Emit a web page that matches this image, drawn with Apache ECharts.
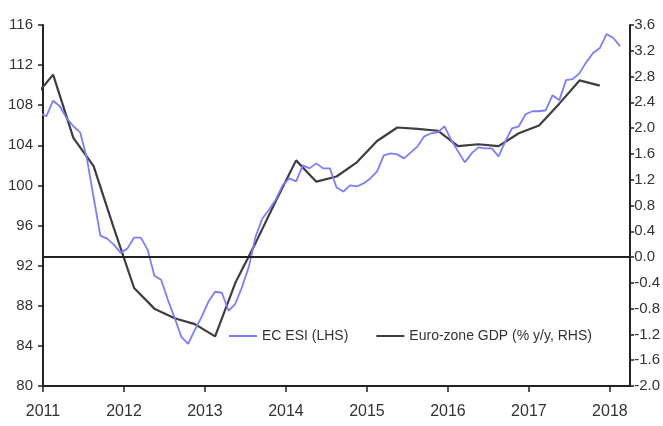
<!DOCTYPE html>
<html>
<head>
<meta charset="utf-8">
<script src="https://cdn.jsdelivr.net/npm/echarts@6.0.0/dist/echarts.min.js"></script>
<style>
  * { margin: 0; padding: 0; }
  body { background: #fff; }
  #mychart { width: 663px; height: 426px; }
</style>
</head>
<body>
<div id="mychart"></div>
<script>
// EC ESI, monthly from Dec 2010 to Feb 2018 (left axis)
const esiStart = 2010 + 11.5 / 12;
const esiValues = [
  107.2,
  106.9, 108.45, 107.9, 106.7, 105.9, 105.3, 102.7, 98.8, 95.0, 94.7, 94.1, 93.3,
  93.7, 94.8, 94.8, 93.6, 91.0, 90.6, 88.6, 86.8, 84.9, 84.2, 85.6, 86.9,
  88.4, 89.4, 89.3, 87.5, 88.2, 89.9, 91.9, 94.9, 96.7, 97.6, 98.6, 100.0,
  100.7, 100.4, 102.0, 101.7, 102.2, 101.7, 101.7, 99.8, 99.4, 100.0, 99.9, 100.2,
  100.7, 101.4, 103.0, 103.2, 103.1, 102.7, 103.3, 103.9, 104.9, 105.2, 105.3, 105.9,
  104.5, 103.4, 102.3, 103.2, 103.8, 103.7, 103.7, 102.9, 104.4, 105.7, 105.9, 107.1,
  107.4, 107.4, 107.5, 109.0, 108.5, 110.5, 110.6, 111.2, 112.3, 113.2, 113.7, 115.1,
  114.7, 113.9
];
// Euro-zone GDP % y/y, quarterly from Q4 2010 to Q4 2017 (right axis)
const gdpStart = 2010.875;
const gdpValues = [
  2.45,
  2.83, 1.85, 1.41, 0.45,
  -0.48, -0.80, -0.95, -1.04,
  -1.23, -0.40, 0.22, 0.87,
  1.50, 1.17, 1.25, 1.47,
  1.80, 2.01, 1.99, 1.96,
  1.72, 1.75, 1.72, 1.92,
  2.04, 2.38, 2.74, 2.66
];
const years = [2011, 2012, 2013, 2014, 2015, 2016, 2017, 2018];
const leftTicks = { min: 80, max: 116, step: 4 };
const rightTicks = { min: -2.0, max: 3.6, step: 0.4 };
const seriesNames = ['EC ESI (LHS)', 'Euro-zone GDP (% y/y, RHS)'];

const font = '"Liberation Sans Narrow", "Liberation Sans", sans-serif';
const axisColor = '#222';
const textColor = '#333';
const esiColor = '#7c7cff';
const gdpColor = '#3d3d42';

function initChart() {
  var chart = echarts.init(document.getElementById('mychart'));
  const esiData = esiValues.map((v, i) => [esiStart + i / 12, v]);
  const gdpData = gdpValues.map((v, i) => [gdpStart + i * 0.25, v]);
  const option = {
    animation: false,
    grid: { left: 43, right: 31, top: 25, bottom: 40 },
    legend: {
      data: seriesNames,
      icon: 'rect',
      left: 229,
      top: 329,
      width: 420,
      padding: 0,
      itemWidth: 28,
      itemHeight: 2,
      itemGap: 28,
      textStyle: { fontFamily: font, fontSize: 14, color: textColor, lineHeight: 14 }
    },
    xAxis: {
      type: 'value',
      min: 2011,
      max: 2018.25,
      interval: 1,
      splitLine: { show: false },
      axisLine: { onZero: false, lineStyle: { color: axisColor, width: 2 } },
      axisTick: { length: 6, customValues: years, lineStyle: { color: axisColor, width: 1.5 } },
      axisLabel: {
        customValues: years,
        margin: 18,
        fontFamily: font,
        fontSize: 16,
        color: textColor,
        formatter: v => (Math.abs(v - Math.round(v)) < 1e-6 ? String(Math.round(v)) : '')
      }
    },
    yAxis: [
      {
        type: 'value',
        position: 'left',
        min: leftTicks.min,
        max: leftTicks.max,
        interval: leftTicks.step,
        splitLine: { show: false },
        axisLine: { show: true, lineStyle: { color: axisColor, width: 2 } },
        axisTick: { show: true, length: 5, lineStyle: { color: axisColor, width: 1.5 } },
        axisLabel: { margin: 10, fontFamily: font, fontSize: 15, color: textColor }
      },
      {
        type: 'value',
        position: 'right',
        min: rightTicks.min,
        max: rightTicks.max,
        interval: rightTicks.step,
        splitLine: { show: false },
        axisLine: { show: true, lineStyle: { color: axisColor, width: 2 } },
        axisTick: { show: true, length: 4, lineStyle: { color: axisColor, width: 1.5 } },
        axisLabel: {
          margin: 4,
          fontFamily: font,
          fontSize: 15,
          color: textColor,
          formatter: v => Number(v).toFixed(1)
        }
      }
    ],
    series: [
      {
        name: seriesNames[0],
        type: 'line',
        yAxisIndex: 0,
        symbol: 'none',
        data: esiData,
        lineStyle: { color: esiColor, width: 1.8 },
        itemStyle: { color: esiColor },
        z: 3
      },
      {
        name: seriesNames[1],
        type: 'line',
        yAxisIndex: 1,
        symbol: 'none',
        data: gdpData,
        lineStyle: { color: gdpColor, width: 2.2 },
        itemStyle: { color: gdpColor },
        z: 2,
        markLine: {
          silent: true,
          symbol: ['none', 'none'],
          label: { show: false },
          lineStyle: { color: axisColor, width: 2, type: 'solid' },
          data: [{ yAxis: 0 }]
        }
      }
    ]
  };
  chart.setOption(option);
  window.addEventListener('resize', function () {
    chart.resize();
  });
}

initChart();
</script>
</body>
</html>
